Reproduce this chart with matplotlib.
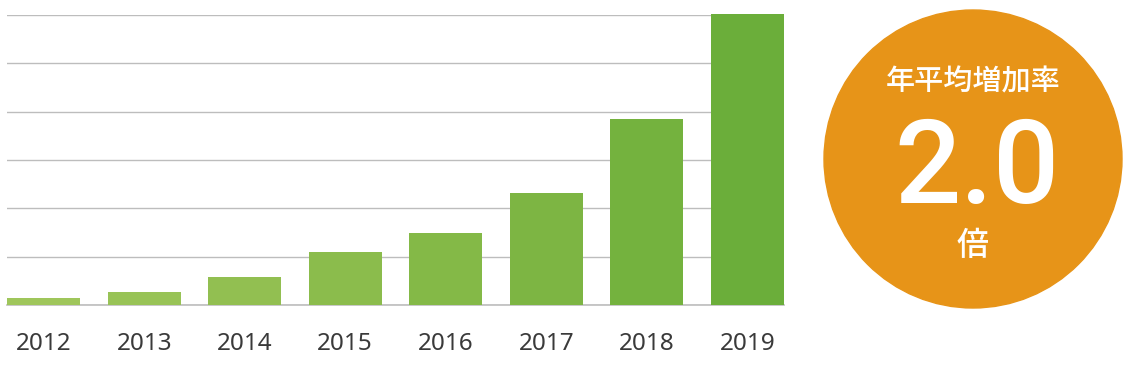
import matplotlib
matplotlib.use("Agg")
import matplotlib.pyplot as plt
from matplotlib.patches import Circle
import numpy as np

years = ["2012", "2013", "2014", "2015", "2016", "2017", "2018", "2019"]
values = [1.4, 2.7, 5.7, 11.0, 15.0, 23.1, 38.4, 60.2]
badge_title = "年平均増加率"
badge_value = "2.0"
badge_unit = "倍"

bar_colors = ["#9fc65b", "#98c356", "#92bf51", "#8bbc4c", "#84b947", "#7db543", "#74b23e", "#6bae3a"]

W, H = 1125, 368
fig = plt.figure(figsize=(W / 100, H / 100), dpi=100)
fig.patch.set_facecolor("white")

ax = fig.add_axes([7 / W, (H - 305) / H, 777 / W, 290 / H])
x = np.arange(len(years))
ax.bar(x, values, width=0.73, color=bar_colors, zorder=3, clip_on=False)
ax.set_xlim(-0.365, len(years) - 1 + 0.365)
ax.set_ylim(0, 60)
ax.set_yticks(np.arange(0, 61, 10))
ax.yaxis.grid(True, color="#bdbdbd", linewidth=1.0, zorder=0)
ax.axhline(0, color="#bdbdbd", linewidth=1.2, zorder=1, clip_on=False)
ax.set_axisbelow(True)
for s in ["top", "right", "left", "bottom"]:
    ax.spines[s].set_visible(False)
ax.tick_params(axis="y", left=False, labelleft=False)
ax.tick_params(axis="x", bottom=False, pad=16)
ax.set_xticks(x)
ax.set_xticklabels(years, fontsize=17.5, color="#3a3a3a", family=["Noto Sans", "DejaVu Sans"], fontweight="medium")
ax.set_facecolor("none")

# badge
bx = fig.add_axes([0, 0, 1, 1])
bx.set_xlim(0, W)
bx.set_ylim(H, 0)
bx.axis("off")
bx.set_zorder(-1)
cx, cy, r = 973, 159, 149
bx.add_patch(Circle((cx, cy), r, color="#e79418"))
cjk = ["Noto Sans CJK JP", "DejaVu Sans"]
bx.text(cx, 82, badge_title, ha="center", va="center", fontsize=21, color="white", family=cjk, fontweight="medium")
bx.text(cx + 4, 171, badge_value, ha="center", va="center", fontsize=84, color="white",
        family=["Roboto", "DejaVu Sans"], fontweight="medium")
bx.text(cx, 246, badge_unit, ha="center", va="center", fontsize=23, color="white", family=cjk, fontweight="medium")

fig.savefig("out.png", dpi=100, facecolor="white")
